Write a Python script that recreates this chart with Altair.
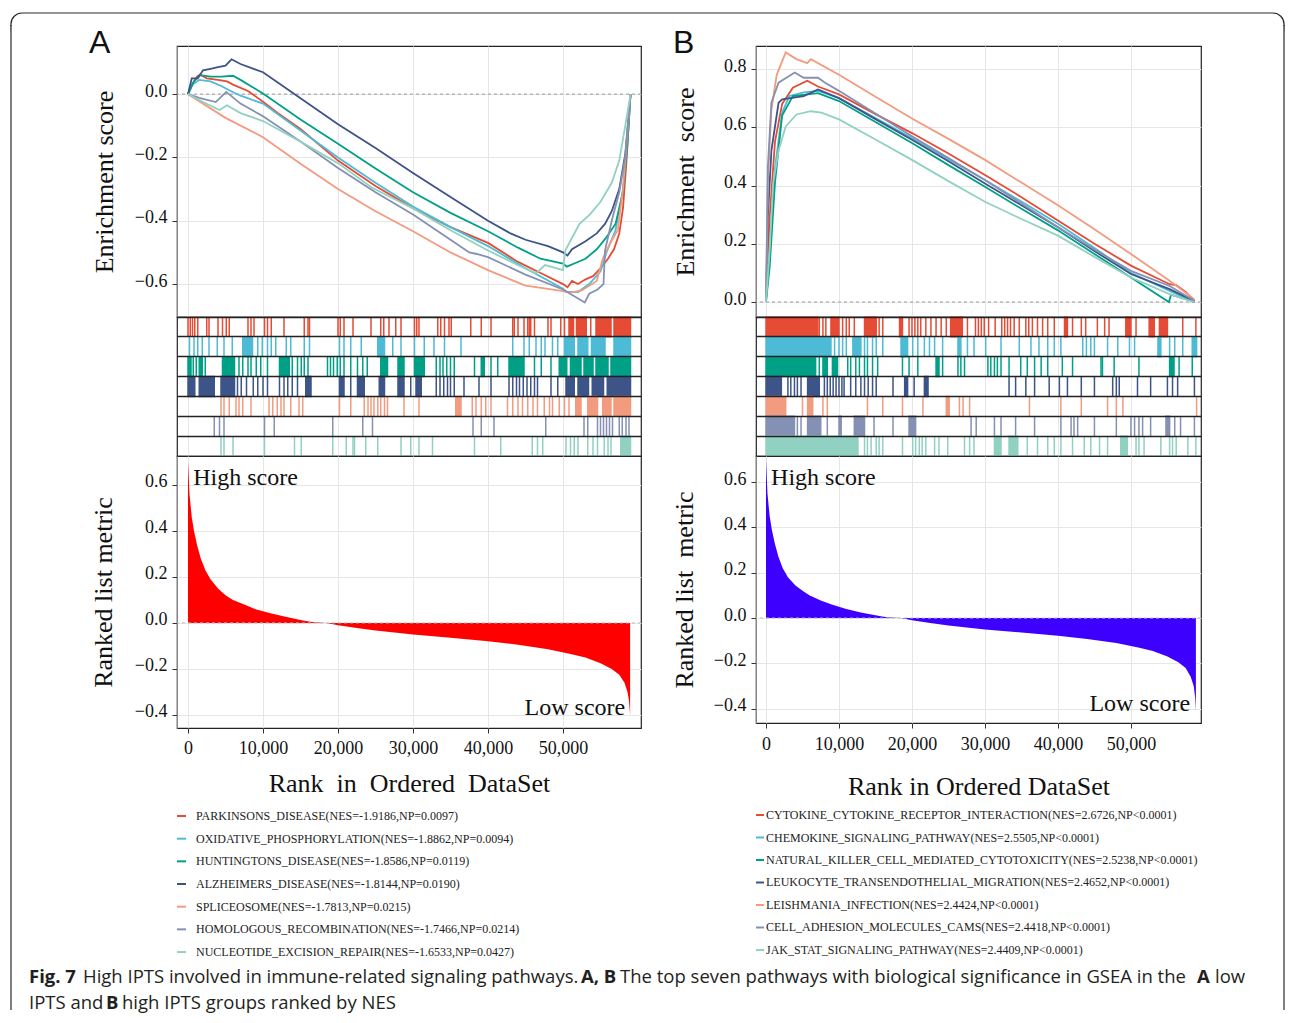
import altair as alt
import pandas as pd

SERIF = "Liberation Serif"
SANS = "Liberation Sans"
CAP_FONT = "Open Sans"
COLORS = ["#E64B35", "#4DBBD5", "#00A087", "#3C5488", "#F39B7F", "#8491B4", "#91D1C2"]
X_TICKS = [0, 10000, 20000, 30000, 40000, 50000]

# ---------------- Panel A (low IPTS) ----------------
A_NAMES = ["PARKINSONS_DISEASE", "OXIDATIVE_PHOSPHORYLATION", "HUNTINGTONS_DISEASE",
           "ALZHEIMERS_DISEASE", "SPLICEOSOME", "HOMOLOGOUS_RECOMBINATION",
           "NUCLEOTIDE_EXCISION_REPAIR"]
A_NES = ["-1.9186", "-1.8862", "-1.8586", "-1.8144", "-1.7813", "-1.7466", "-1.6533"]
A_NP = ["=0.0097", "=0.0094", "=0.0119", "=0.0190", "=0.0215", "=0.0214", "=0.0427"]

# running enrichment score: (rank in thousands, ES)
A_ES_PARKINSONS = [(0, 0), (0.5, 0.03), (1.2, 0.055), (1.6, 0.062), (2.5, 0.05), (4, 0.045), (5.2, 0.04),
                   (6, 0.03), (8, 0.01), (10, -0.024), (12, -0.06), (15, -0.11), (20, -0.21), (25, -0.29),
                   (30, -0.36), (35, -0.42), (40, -0.47), (44, -0.53), (47, -0.565), (50, -0.60), (50.6, -0.61),
                   (51.2, -0.59), (52, -0.60), (53, -0.585), (54, -0.575), (55, -0.55), (56, -0.52),
                   (56.8, -0.49), (57.5, -0.44), (58, -0.36), (58.5, -0.2), (58.8, -0.08), (59, 0)]
A_ES_OXIDATIVE = [(0, 0), (0.6, 0.03), (1.5, 0.045), (3, 0.04), (4.5, 0.025), (5.5, 0.012), (7, -0.005),
                  (10, -0.03), (15, -0.115), (20, -0.20), (25, -0.28), (30, -0.355), (35, -0.42), (40, -0.48),
                  (45, -0.55), (50, -0.615), (50.5, -0.625), (52, -0.625), (53.5, -0.60), (55, -0.56),
                  (55.8, -0.50), (57, -0.43), (58, -0.30), (58.6, -0.15), (59, 0)]
A_ES_HUNTINGTONS = [(0, 0), (0.8, 0.04), (1.6, 0.06), (3, 0.055), (4.5, 0.055), (6, 0.058), (7, 0.045),
                    (10, 0.002), (15, -0.08), (20, -0.157), (25, -0.235), (30, -0.31), (35, -0.375),
                    (40, -0.433), (44, -0.485), (47, -0.52), (50, -0.535), (50.5, -0.545), (51.5, -0.535),
                    (53, -0.52), (54.5, -0.49), (55.7, -0.455), (57, -0.41), (58, -0.31), (58.6, -0.15), (59, 0)]
A_ES_ALZHEIMERS = [(0, 0), (0.5, 0.05), (1.3, 0.05), (2, 0.075), (3, 0.08), (4, 0.085), (5, 0.09),
                   (5.8, 0.11), (7, 0.095), (10, 0.069), (15, -0.013), (20, -0.095), (25, -0.17), (30, -0.249),
                   (35, -0.325), (40, -0.40), (43, -0.44), (45, -0.46), (48, -0.48), (50, -0.50), (50.6, -0.51),
                   (51.2, -0.49), (53, -0.465), (54.5, -0.44), (55.6, -0.41), (56.5, -0.37), (57.5, -0.30),
                   (58.3, -0.19), (59, 0)]
A_ES_SPLICEOSOME = [(0, 0), (2, -0.03), (5, -0.075), (10, -0.136), (15, -0.22), (20, -0.30), (25, -0.37),
                    (30, -0.433), (35, -0.50), (40, -0.556), (45, -0.605), (48, -0.615), (50, -0.622),
                    (51, -0.627), (52.5, -0.62), (54.5, -0.59), (55.3, -0.52), (56.3, -0.47), (57.3, -0.43),
                    (58, -0.30), (58.6, -0.12), (59, 0)]
A_ES_HOMOLOGOUS = [(0, 0), (1.5, -0.012), (3.7, -0.025), (5.1, 0.007), (7, -0.03), (10, -0.07), (15, -0.15),
                   (20, -0.233), (25, -0.31), (30, -0.38), (35, -0.46), (37.5, -0.50), (38.5, -0.505),
                   (40, -0.515), (45, -0.57), (50, -0.617), (52.9, -0.658), (53.5, -0.63), (54.6, -0.617),
                   (55.4, -0.60), (55.6, -0.494), (56.5, -0.40), (57.5, -0.31), (58.3, -0.2), (59, 0)]
A_ES_NUCLEOTIDE = [(0, 0), (2, -0.025), (4.2, -0.05), (5.2, -0.035), (7, -0.06), (10, -0.085), (15, -0.15),
                   (20, -0.218), (24.5, -0.295), (30, -0.361), (35, -0.43), (40, -0.494), (44, -0.54),
                   (46.4, -0.566), (47.6, -0.54), (50, -0.556), (50.3, -0.494), (52.2, -0.41), (53.6, -0.38),
                   (55, -0.34), (56.5, -0.28), (57.5, -0.21), (58.3, -0.10), (59, 0)]

# gene-set hits (rank in thousands; pairs are dense runs)
A_HITS_PARKINSONS = [0.0, 0.3, 0.6, 0.9, 1.3, 2.5, 2.8, 4.0, 4.6, 5.1, 5.5, 8.0, 8.4, 8.8, 10.2, 10.6, 11.1,
                     12.8, 15.5, 16.0, 16.2, 20.0, 20.3, 20.8, 22.0, 24.4, 25.7, 26.1, 26.8, 27.7, 28.4, 30.2,
                     30.5, 30.8, 33.3, 33.7, 34.2, 34.8, 35.1, 37.7, 39.1, 40.4, 43.3, 43.5, 44.0, 44.8, 45.3,
                     45.5, 45.7, 46.2, 48.0, 48.4, 49.7, 50.2, (50.8, 51.4), (51.8, 53.1), 53.7, (54.4, 56.4),
                     (56.8, 59.0)]
A_HITS_OXIDATIVE = [0.2, 0.8, 1.3, 1.9, 2.8, 3.9, 4.8, 5.9, (7.3, 8.6), 9.3, 9.9, 10.6, 11.1, 11.7, 13.1,
                    13.7, 15.5, 16.2, 20.2, 20.8, 21.7, 23.1, (25.3, 26.2), 27.3, 28.4, 30.2, 31.5, 32.8, 34.2,
                    36.4, 43.3, 44.8, 45.5, 46.4, 47.1, 47.6, 48.6, 49.3, (50.2, 51.5), (52.0, 53.3),
                    (53.8, 55.6), (56.8, 59.0)]
A_HITS_HUNTINGTONS = [(0.0, 0.4), 0.7, 1.1, (1.5, 1.9), 2.3, (4.6, 6.2), 6.8, 7.3, 8.0, 8.4, 9.1, 9.7, 10.6,
                      (12.2, 13.5), 13.9, 14.6, 15.1, 15.5, 16.0, 18.6, 19.0, 19.4, 19.9, 20.3, 20.8, 21.7,
                      22.6, 23.3, 23.9, (25.7, 26.6), (28.0, 28.8), (30.2, 31.5), 33.1, 33.6, 34.0, 34.5, 35.0,
                      35.5, 38.2, (39.1, 39.5), 40.4, 41.3, (42.8, 44.8), 46.2, 47.1, 48.4, (49.5, 50.5),
                      (51.0, 52.4), (52.8, 54.0), (54.4, 56.0), (56.4, 59.0)]
A_HITS_ALZHEIMERS = [(0.0, 0.9), (1.5, 3.5), (4.4, 6.2), 6.6, 7.1, 7.8, 8.7, 9.3, 10.0, 10.6, 12.2, 12.8,
                     13.3, 13.9, 14.6, (15.7, 16.4), (20.2, 20.8), 21.7, (22.6, 23.5), (25.5, 26.2),
                     (28.0, 28.8), 29.7, (30.4, 31.1), 33.1, 33.6, 34.1, 34.6, 35.0, 35.5, 36.8, 38.8, 40.4,
                     42.8, 43.3, 43.8, 44.2, 44.7, 45.2, 45.7, 46.2, 46.6, 48.4, 49.3, (50.4, 51.5),
                     (52.0, 53.4), (53.9, 55.4), (55.9, 59.0)]
A_HITS_SPLICEOSOME = [4.4, 4.8, 5.5, 6.4, 6.8, 7.3, 8.4, 10.8, 11.3, 11.9, 12.4, 12.8, 13.7, 14.8, 15.3, 20.2,
                      21.7, 23.5, 24.0, 24.4, 24.8, 25.3, 25.7, 26.2, 26.6, 28.8, 30.8, (35.7, 36.4), 37.9,
                      38.4, 39.1, 39.7, 40.4, 42.6, 43.3, 44.0, 44.6, 45.3, 46.0, 46.6, 47.5, 48.2, 48.6, 49.5,
                      50.2, 50.8, (51.7, 52.4), (53.3, 54.6), (55.3, 56.4), (56.8, 59.0)]
A_HITS_HOMOLOGOUS = [3.5, 4.2, 4.8, 10.2, 11.5, 19.3, 23.3, 24.6, 38.0, 39.1, 40.8, 47.7, 52.8, 53.3, 54.6,
                     55.0, 55.4, 55.8, 56.2, 56.6, 57.5, 57.9, 58.4, 58.8]
A_HITS_NUCLEOTIDE = [4.4, 4.8, 6.0, 10.2, 14.2, 15.1, 19.3, 21.1, 22.0, 22.2, 23.7, 25.3, 28.4, 29.7, 30.8,
                     32.6, 38.2, 41.7, 45.9, 46.6, 47.3, 50.4, 51.0, 51.5, 52.0, 53.3, 54.0, 54.6, 55.5, 56.0,
                     56.4, (57.7, 59.0)]

# ranked list metric: (rank in thousands, metric)
A_METRIC = [(0, 0.70), (0.2, 0.56), (0.5, 0.46), (0.8, 0.40), (1.2, 0.34), (1.7, 0.28), (2.3, 0.23),
            (3.0, 0.19), (4.0, 0.15), (5.0, 0.12), (6.0, 0.10), (7.5, 0.08), (9.0, 0.06), (11.0, 0.042),
            (13.0, 0.027), (15.0, 0.013), (16.5, 0.004), (18.5, 0.0), (20.0, -0.01), (22.5, -0.022),
            (25.0, -0.033), (30.0, -0.05), (35.0, -0.065), (40.0, -0.08), (44.0, -0.095), (48.0, -0.115),
            (51.0, -0.135), (53.0, -0.15), (55.0, -0.175), (56.5, -0.20), (57.5, -0.225), (58.2, -0.26),
            (58.6, -0.30), (58.8, -0.34), (58.95, -0.40)]

# ---------------- Panel B (high IPTS) ----------------
B_NAMES = ["CYTOKINE_CYTOKINE_RECEPTOR_INTERACTION", "CHEMOKINE_SIGNALING_PATHWAY",
           "NATURAL_KILLER_CELL_MEDIATED_CYTOTOXICITY", "LEUKOCYTE_TRANSENDOTHELIAL_MIGRATION",
           "LEISHMANIA_INFECTION", "CELL_ADHESION_MOLECULES_CAMS", "JAK_STAT_SIGNALING_PATHWAY"]
B_NES = ["2.6726", "2.5505", "2.5238", "2.4652", "2.4424", "2.4418", "2.4409"]
B_NP = ["<0.0001", "<0.0001", "<0.0001", "<0.0001", "<0.0001", "<0.0001", "<0.0001"]

B_ES_CYTOKINE = [(0, 0), (0.5, 0.29), (1.23, 0.55), (2.21, 0.68), (3.68, 0.736), (5.65, 0.76), (7.12, 0.74),
                 (10, 0.713), (15, 0.645), (20, 0.58), (25, 0.51), (30, 0.436), (35, 0.36), (40, 0.28),
                 (45, 0.20), (50, 0.125), (55.3, 0.061), (56.2, 0.058), (57.5, 0.035), (58.7, 0.003)]
B_ES_CHEMOKINE = [(0, 0), (0.5, 0.18), (1.23, 0.46), (2.21, 0.65), (3.19, 0.707), (5.16, 0.72), (7.12, 0.725),
                  (10, 0.70), (15, 0.632), (20, 0.563), (25, 0.49), (30, 0.419), (35, 0.345), (40, 0.269),
                  (45, 0.185), (50, 0.10), (55.3, 0.038), (58.7, 0.0)]
B_ES_NATURAL_KILLER = [(0, 0), (0.5, 0.12), (1.23, 0.41), (2.21, 0.64), (3.68, 0.707), (7.12, 0.717),
                       (10, 0.69), (15, 0.618), (20, 0.546), (25, 0.47), (30, 0.396), (35, 0.32), (40, 0.246),
                       (45, 0.165), (50, 0.084), (55.2, 0.0), (55.5, 0.025), (58.7, 0.0)]
B_ES_LEUKOCYTE = [(0, 0), (0.25, 0.29), (0.74, 0.52), (1.72, 0.684), (2.21, 0.696), (5.16, 0.707),
                  (7.12, 0.73), (10, 0.70), (15, 0.628), (20, 0.557), (25, 0.483), (30, 0.407), (35, 0.332),
                  (40, 0.257), (45, 0.175), (50, 0.096), (55.3, 0.044), (58.7, 0.003)]
B_ES_LEISHMANIA = [(0, 0), (0.25, 0.41), (0.74, 0.66), (1.47, 0.78), (2.7, 0.857), (4.17, 0.834),
                   (5.65, 0.82), (6.14, 0.834), (10, 0.78), (15, 0.705), (20, 0.63), (25, 0.56), (30, 0.488),
                   (35, 0.41), (40, 0.332), (45, 0.25), (50, 0.165), (55.3, 0.073), (58.7, 0.009)]
B_ES_CELL_ADHESION = [(0, 0), (0.25, 0.46), (0.74, 0.684), (1.72, 0.753), (3.93, 0.788), (5.16, 0.77),
                      (7.12, 0.77), (8.1, 0.753), (10, 0.725), (15, 0.647), (20, 0.569), (25, 0.494),
                      (30, 0.419), (35, 0.338), (40, 0.257), (45, 0.18), (50, 0.107), (55.3, 0.055), (58.7, 0.004)]
B_ES_JAK_STAT = [(0, 0), (0.5, 0.177), (0.98, 0.407), (1.72, 0.52), (2.7, 0.603), (4.17, 0.644), (6.14, 0.655),
                 (7.6, 0.65), (10, 0.627), (15, 0.558), (20, 0.488), (25, 0.415), (30, 0.344), (35, 0.285),
                 (40, 0.228), (45, 0.155), (50, 0.084), (55.3, 0.027), (58.7, 0.0)]

B_HITS_CYTOKINE = [(0.0, 7.1), 7.3, 7.8, 8.2, (8.9, 10.0), 10.5, 11.0, 11.4, 12.1, (13.5, 15.1), 15.5, 16.0,
                   (18.3, 18.7), 19.6, 20.0, 20.4, 20.8, 21.2, 21.9, 22.6, 23.3, 24.0, 24.7, (25.3, 26.9), 27.6,
                   28.7, 29.1, 29.5, 29.9, 30.5, 31.4, 32.3, 32.7, 33.1, 33.5, 34.0, 34.7, 35.6, 36.0, 36.5,
                   37.2, 37.9, 38.6, 39.5, (40.9, 41.3), 42.0, 43.2, 43.8, 45.4, 46.4, 47.0, (49.3, 50.0), 50.7,
                   (52.5, 53.2), (53.9, 55.0), 57.1, 58.9]
B_HITS_CHEMOKINE = [(0.0, 8.9), 9.4, 10.0, 10.5, 11.0, (11.9, 13.0), 13.5, 13.9, 14.6, 15.1, 16.0, (18.5, 19.4),
                    20.1, 20.8, 21.7, 22.4, 23.1, 24.2, (26.3, 26.7), 27.6, 28.5, 30.1, 32.2, 34.7, 36.3, 37.4,
                    38.6, 39.5, 40.4, 43.4, 43.9, 44.5, 45.0, 46.8, 48.2, 49.8, 50.5, (53.7, 54.1), 55.3, 56.0,
                    57.1, (58.4, 59.0)]
B_HITS_NATURAL_KILLER = [(0.0, 6.8), 7.3, (7.8, 8.4), (9.1, 9.8), 11.2, 11.6, 12.3, 12.8, 13.5, 13.9, 14.6,
                         15.3, 18.7, 19.6, 20.8, (23.3, 23.7), 24.2, 26.3, 26.7, 27.2, 30.4, 30.8, 31.3, 31.7,
                         32.2, 33.3, 34.9, 35.8, 36.8, 37.7, 38.6, 40.6, 42.0, 45.9, 46.1, 47.7, 51.1,
                         (55.3, 55.9), 56.6, 58.4]
B_HITS_LEUKOCYTE = [(0.0, 2.1), 3.0, 3.4, 3.9, 4.3, 4.8, (5.7, 7.3), 8.0, 8.4, 8.8, 9.2, 9.6, 10.0, 10.4, 10.7,
                    11.6, 12.3, 13.0, 13.5, 14.0, 14.6, 15.1, 17.4, (19.0, 19.4), 20.3, (21.7, 22.2), 33.3, 34.2,
                    35.6, 36.8, 38.8, 40.2, 41.3, 43.2, 45.0, 47.5, 48.0, 48.4, 50.9, 52.7, 55.0, 55.7, 56.4,
                    58.7]
B_HITS_LEISHMANIA = [(0.0, 2.7), 5.0, (5.7, 6.4), 7.8, 8.4, 13.9, 16.0, 18.7, 21.5, (24.7, 25.1), 26.5, 27.0,
                     27.9, 36.1, 40.4, 43.2, 46.8, 48.0, 48.9, 59.0]
B_HITS_CELL_ADHESION = [(0.0, 3.9), 4.3, 4.8, (5.7, 7.5), 8.4, (10.0, 10.3), (12.1, 13.5), 14.8, 17.4,
                        (19.6, 20.5), 28.1, 28.8, 31.3, 32.2, 34.2, 36.8, 40.4, 41.8, 42.2, 42.7, 45.0, 48.0,
                        50.0, 50.5, 51.1, 51.6, 52.7, (54.8, 55.3), 56.0, 56.8, 58.7]
B_HITS_JAK_STAT = [(0.0, 12.6), 13.5, 13.9, 14.4, 15.1, 15.5, 16.0, 18.7, 20.1, 20.5, 21.0, 21.4, 21.9, 23.1,
                   23.7, 24.9, 27.2, 27.9, 28.5, (31.3, 32.2), (33.3, 34.5), 35.8, 37.2, 38.6, 39.5, 40.4, 42.0,
                   43.6, 44.5, 45.7, 46.8, (48.6, 49.5), 50.7, 51.1, 51.8, 54.1, 55.3, 55.7, 56.2, 57.8, 58.9]

B_METRIC = [(0, 0.70), (0.2, 0.55), (0.5, 0.45), (0.8, 0.39), (1.2, 0.33), (1.7, 0.27), (2.3, 0.22),
            (3.0, 0.18), (4.0, 0.145), (5.0, 0.12), (6.0, 0.10), (7.5, 0.078), (9.0, 0.06), (11.0, 0.04),
            (13.0, 0.025), (15.0, 0.012), (16.5, 0.004), (18.5, 0.0), (20.0, -0.01), (22.5, -0.022),
            (25.0, -0.033), (30.0, -0.05), (35.0, -0.064), (40.0, -0.078), (44.0, -0.092), (48.0, -0.11),
            (51.0, -0.13), (53.0, -0.145), (55.0, -0.17), (56.5, -0.195), (57.5, -0.22), (58.2, -0.26),
            (58.6, -0.30), (58.8, -0.35), (58.9, -0.41)]

A_ES = [A_ES_PARKINSONS, A_ES_OXIDATIVE, A_ES_HUNTINGTONS, A_ES_ALZHEIMERS, A_ES_SPLICEOSOME,
        A_ES_HOMOLOGOUS, A_ES_NUCLEOTIDE]
A_HITS = [A_HITS_PARKINSONS, A_HITS_OXIDATIVE, A_HITS_HUNTINGTONS, A_HITS_ALZHEIMERS, A_HITS_SPLICEOSOME,
          A_HITS_HOMOLOGOUS, A_HITS_NUCLEOTIDE]
B_ES = [B_ES_CYTOKINE, B_ES_CHEMOKINE, B_ES_NATURAL_KILLER, B_ES_LEUKOCYTE, B_ES_LEISHMANIA,
        B_ES_CELL_ADHESION, B_ES_JAK_STAT]
B_HITS = [B_HITS_CYTOKINE, B_HITS_CHEMOKINE, B_HITS_NATURAL_KILLER, B_HITS_LEUKOCYTE, B_HITS_LEISHMANIA,
          B_HITS_CELL_ADHESION, B_HITS_JAK_STAT]

# ---------------- layout constants ----------------
A_W, B_W = 464, 445
ES_H, HIT_H = 271, 139
A_RANK_H, B_RANK_H = 272, 267
LEG_H, CAP_H = 235, 50
A_XDOM, B_XDOM = [-1467, 60400], [-1370, 59600]
ONE = alt.Data(values=[{"k": 1}])
NOSTROKE = alt.ViewBackground(strokeOpacity=0)
BORDER = "#2a2a2a"


def es_frame(names, series):
    rows = []
    for n, pts in zip(names, series):
        for k, v in pts:
            rows.append({"series": n, "rank": k * 1000, "es": v})
    return pd.DataFrame(rows)


def hit_frame(names, hits):
    rows = []
    for n, hs in zip(names, hits):
        for h in hs:
            s, e = (h if isinstance(h, tuple) else (h, h))
            rows.append({"series": n, "start": s * 1000, "end": e * 1000})
    return pd.DataFrame(rows)


def metric_frame(pts):
    return pd.DataFrame({"rank": [p[0] * 1000 for p in pts], "metric": [p[1] for p in pts]})


def es_chart(names, series, xdom, ydom, yticks, width, ytitle, title_x, letter, letter_x, extra=()):
    xs = alt.Scale(domain=xdom, nice=False, zero=False)
    ys = alt.Scale(domain=ydom, nice=False, zero=False)
    xa = alt.Axis(values=X_TICKS, grid=True, labels=False, ticks=False, domain=False, title=None)
    ya = alt.Axis(values=yticks, format=".1f", title=ytitle, titleX=title_x, titleBaseline="middle",
                  labelOffset=-3, labelPadding=5)
    zero = alt.Chart(alt.Data(values=[{"es": 0}])).mark_rule(
        color="#9a9a9a", strokeDash=[3, 3], strokeWidth=1).encode(y=alt.Y("es:Q", scale=ys, axis=ya))
    lines = alt.Chart(es_frame(names, series)).mark_line(strokeWidth=1.8).encode(
        x=alt.X("rank:Q", scale=xs, axis=xa),
        y=alt.Y("es:Q", scale=ys, axis=ya),
        color=alt.Color("series:N", scale=alt.Scale(domain=names, range=COLORS), legend=None),
    )
    lab = alt.Chart(ONE).mark_text(text=letter, font=SANS, fontSize=32, align="left",
                                   baseline="alphabetic", color="#111").encode(
        x=alt.value(letter_x), y=alt.value(7))
    return alt.layer(*extra, zero, lines, lab).properties(width=width, height=ES_H)


def hits_chart(names, hits, xdom, width):
    xs = alt.Scale(domain=xdom, nice=False, zero=False)
    cs = alt.Scale(domain=names, range=COLORS)
    return alt.Chart(hit_frame(names, hits)).mark_rect(strokeWidth=1.5).encode(
        x=alt.X("start:Q", scale=xs,
                axis=alt.Axis(values=X_TICKS, grid=True, labels=False, ticks=False, domain=False, title=None)),
        x2="end:Q",
        y=alt.Y("series:N", scale=alt.Scale(domain=names, paddingInner=0, paddingOuter=0),
                axis=alt.Axis(grid=True, gridColor="#222", gridWidth=1.5, bandPosition=0, labels=False,
                              ticks=False, domain=False, title=None, zindex=1)),
        color=alt.Color("series:N", scale=cs, legend=None),
        stroke=alt.Stroke("series:N", scale=cs, legend=None),
    ).properties(width=width, height=HIT_H)


def rank_chart(pts, fill, xdom, ydom, width, height, ytitle, title_x, xtitle, title_y, lab_pad,
               high_xy, low_xy):
    xs = alt.Scale(domain=xdom, nice=False, zero=False)
    ys = alt.Scale(domain=ydom, nice=False, zero=False)
    xa = alt.Axis(values=X_TICKS, format=",d", grid=True, title=xtitle, titleY=title_y,
                  titleBaseline="middle", labelPadding=lab_pad, domain=False)
    ya = alt.Axis(values=[-0.4, -0.2, 0.0, 0.2, 0.4, 0.6], format=".1f", title=ytitle, titleX=title_x,
                  titleBaseline="middle", labelOffset=-3, labelPadding=5)
    area = alt.Chart(metric_frame(pts)).mark_area(color=fill, opacity=1).encode(
        x=alt.X("rank:Q", scale=xs, axis=xa),
        y=alt.Y("metric:Q", scale=ys, axis=ya),
        y2=alt.datum(0),
    )
    zero = alt.Chart(alt.Data(values=[{"metric": 0}])).mark_rule(
        color="#bbbbbb", strokeDash=[3, 3], strokeWidth=1).encode(y=alt.Y("metric:Q", scale=ys, axis=ya))
    hi = alt.Chart(ONE).mark_text(text="High score", font=SERIF, fontSize=24, align="left",
                                  baseline="middle", color="#111").encode(
        x=alt.datum(high_xy[0]), y=alt.datum(high_xy[1]))
    lo = alt.Chart(ONE).mark_text(text="Low score", font=SERIF, fontSize=24, align="right",
                                  baseline="middle", color="#111").encode(
        x=alt.datum(low_xy[0]), y=alt.datum(low_xy[1]))
    return alt.layer(area, zero, hi, lo).properties(width=width, height=height)


def legend_chart(names, nes, nps, width, d0, d1, dash_len, text_x):
    labels = [f"{n}(NES={e},NP{p})" for n, e, p in zip(names, nes, nps)]
    df = pd.DataFrame({"series": names, "label": labels, "idx": list(range(len(names)))})
    ys = alt.Scale(domain=[d0, d1], reverse=True, nice=False, zero=False)
    base = alt.Chart(df)
    dash = base.mark_rule(strokeWidth=2).encode(
        x=alt.value(0), x2=alt.value(dash_len), y=alt.Y("idx:Q", scale=ys, axis=None),
        color=alt.Color("series:N", scale=alt.Scale(domain=names, range=COLORS), legend=None))
    txt = base.mark_text(align="left", baseline="middle", font=SERIF, fontSize=12, color="#222").encode(
        x=alt.value(text_x), y=alt.Y("idx:Q", scale=ys, axis=None), text="label:N")
    return alt.layer(dash, txt).properties(width=width, height=LEG_H, view=NOSTROKE)


CAPTION = [
    ("Fig. 7", "bold", -148, 20),
    ("High IPTS involved in immune-related signaling pathways.", "normal", -94, 20),
    ("A, B", "bold", 404, 20),
    ("The top seven pathways with biological significance in GSEA in the", "normal", 443, 20),
    ("A", "bold", 1020, 20),
    ("low", "normal", 1038, 20),
    ("IPTS and", "normal", -148, 46),
    ("B", "bold", -71, 46),
    ("high IPTS groups ranked by NES", "normal", -55, 46),
]


def caption_chart():
    layers = [alt.Chart(ONE).mark_text(text=t, font=CAP_FONT, fontSize=18.5, fontWeight=w, align="left",
                                       baseline="alphabetic", color="#231f20").encode(
        x=alt.value(x), y=alt.value(y)) for t, w, x, y in CAPTION]
    return alt.layer(*layers).properties(width=A_W, height=CAP_H, view=NOSTROKE)


# figure border (open at the bottom, as the page cuts it off)
BL, BR = -166, 1107
border_top = alt.Chart(ONE).mark_rect(filled=False, stroke=BORDER, strokeWidth=1.2, cornerRadius=11).encode(
    x=alt.value(BL), x2=alt.value(BR), y=alt.value(-33), y2=alt.value(-5))
border_cover = alt.Chart(ONE).mark_rect(color="white").encode(
    x=alt.value(BL - 0.5), x2=alt.value(BR + 0.5), y=alt.value(-20), y2=alt.value(-3))
border_left = alt.Chart(ONE).mark_rule(color=BORDER, strokeWidth=1.2).encode(
    x=alt.value(BL), y=alt.value(-21), y2=alt.value(964))
border_right = alt.Chart(ONE).mark_rule(color=BORDER, strokeWidth=1.2).encode(
    x=alt.value(BR), y=alt.value(-21), y2=alt.value(964))

esA = es_chart(A_NAMES, A_ES, A_XDOM, [-0.704, 0.152], [-0.6, -0.4, -0.2, 0.0], A_W, "Enrichment score",
               -73, "A", -88, extra=(border_top, border_cover, border_left, border_right))
esB = es_chart(B_NAMES, B_ES, B_XDOM, [-0.0515, 0.879], [0.0, 0.2, 0.4, 0.6, 0.8], B_W,
               "Enrichment\u00a0 score", -71, "B", -83)
hitsA = hits_chart(A_NAMES, A_HITS, A_XDOM, A_W)
hitsB = hits_chart(B_NAMES, B_HITS, B_XDOM, B_W)
rankA = rank_chart(A_METRIC, "#FF0000", A_XDOM, [-0.457, 0.726], A_W, A_RANK_H, "Ranked list metric", -74,
                   "Rank\u00a0 in\u00a0 Ordered\u00a0 DataSet", 55, 6, (700, 0.63), (58300, -0.37))
rankB = rank_chart(B_METRIC, "#3D00FF", B_XDOM, [-0.463, 0.715], B_W, B_RANK_H, "Ranked list\u00a0 metric", -72,
                   "Rank in Ordered DataSet", 63, 7, (700, 0.62), (58100, -0.38))
legA = legend_chart(A_NAMES, A_NES, A_NP, A_W, -3.882, 6.484, 9, 19)
legB = legend_chart(B_NAMES, B_NES, B_NP, B_W, -3.867, 6.578, 8, 10)
cap = caption_chart()

chart = alt.concat(
    esA, esB, hitsA, hitsB, rankA, rankB, legA, legB, cap,
    columns=2, spacing={"row": 0, "column": 115}, bounds="flush", align="each",
).resolve_scale(
    color="independent", stroke="independent", x="independent", y="independent"
).properties(
    padding={"left": 1, "top": 3, "right": 0, "bottom": 0}
).configure_view(
    stroke="#222", strokeWidth=1.2
).configure_axis(
    labelFont=SERIF, labelFontSize=18, labelColor="#111", titleFont=SERIF, titleFontSize=26,
    titleFontWeight="normal", titleColor="#111", gridColor="#e6e6e6", gridWidth=1, tickColor="#333",
    tickSize=5, labelPadding=2
)

chart.save("out.html", embed_options={"renderer": "svg", "actions": False})
